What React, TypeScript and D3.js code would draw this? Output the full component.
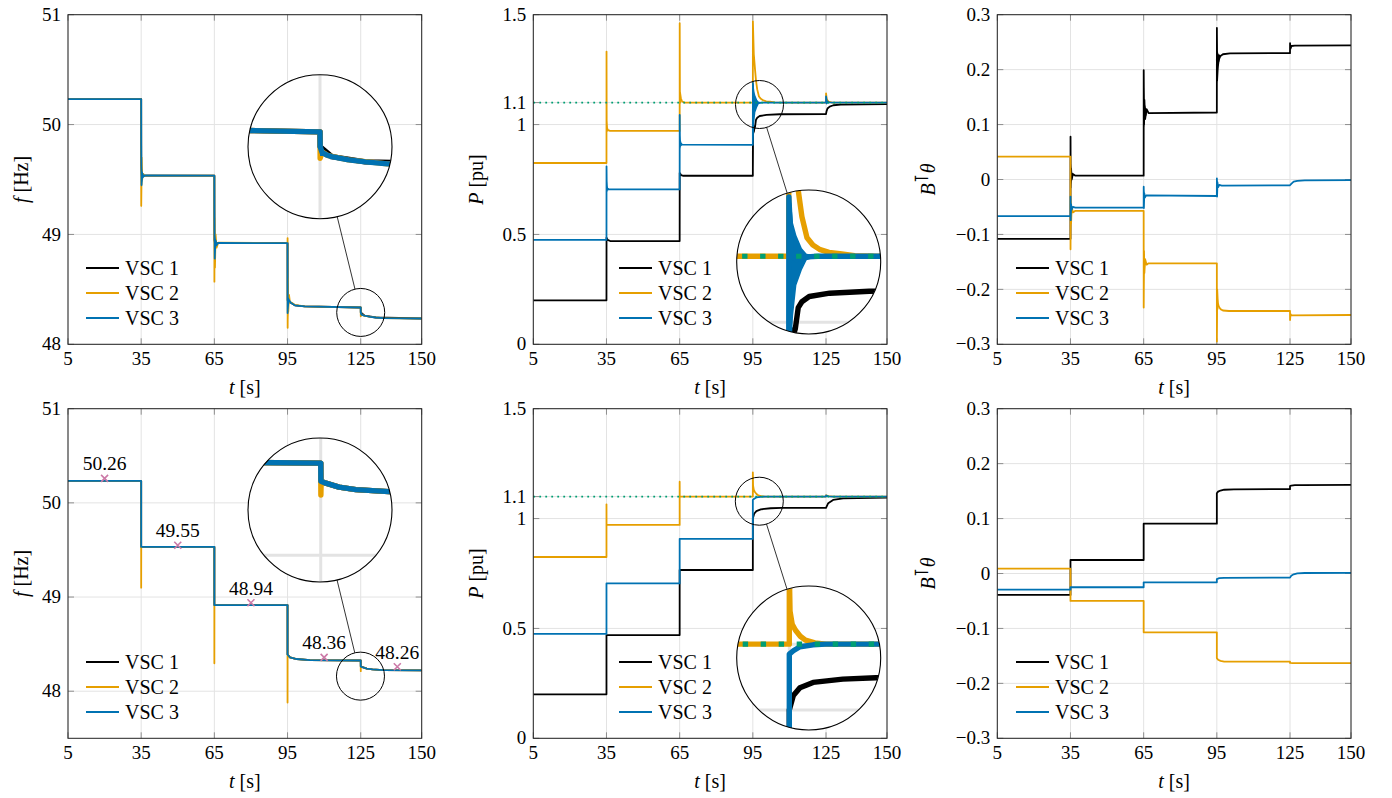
import React from 'react';
import * as d3 from 'd3';

type Pt = [number, number];
type Band = [number, number, number];

// ---------- axes ----------
const tDomain: [number, number] = [5, 150];
const tTicks = [5, 35, 65, 95, 125, 150];
const tTickLabels = ['5', '35', '65', '95', '125', '150'];

const fTicks = [48, 49, 50, 51];
const fTickLabels = ['48', '49', '50', '51'];
const pTicks = [0, 0.5, 1, 1.1, 1.5];
const pTickLabels = ['0', '0.5', '1', '1.1', '1.5'];
const bTicks = [-0.3, -0.2, -0.1, 0, 0.1, 0.2, 0.3];
const bTickLabels = ['\u22120.3', '\u22120.2', '\u22120.1', '0', '0.1', '0.2', '0.3'];

const seriesNames = ['VSC 1', 'VSC 2', 'VSC 3'];
const pRef = 1.1;

// ---------- top row: frequency ----------
const fTop1: Pt[] = [[5,50.232],[35,50.232],[35.03,49.62],[35.3,49.52],[36,49.535],[65,49.535],[65.03,48.95],[65.4,48.9],[66,48.92],[95,48.92],[95.03,48.4],[95.5,48.39],[96.5,48.375],[98,48.355],[102,48.345],[125,48.335],[125.02,48.29],[126.6,48.26],[131.2,48.244],[150,48.235]];
const fTop2: Pt[] = [[5,50.232],[35,50.232],[35.02,49.26],[35.1,49.42],[35.2,49.7],[35.4,49.5],[35.8,49.55],[36.5,49.535],[65,49.535],[65.02,48.57],[65.1,49.15],[65.25,48.7],[65.5,49.0],[65.9,48.88],[66.6,48.925],[95,48.92],[95.02,48.967],[95.05,48.15],[95.15,48.6],[95.3,48.3],[95.6,48.45],[96,48.38],[96.6,48.38],[98,48.358],[102,48.345],[125,48.335],[125.02,48.255],[125.3,48.275],[126,48.264],[128.9,48.25],[134.2,48.238],[150,48.235]];
const fTop3: Pt[] = [[5,50.232],[35,50.232],[35.02,49.83],[35.15,49.45],[35.4,49.56],[35.8,49.525],[36.5,49.537],[65,49.535],[65.02,49.22],[65.15,48.78],[65.4,48.95],[65.8,48.9],[66.5,48.922],[95,48.92],[95.02,48.285],[95.2,48.42],[95.6,48.4],[96.5,48.375],[98,48.355],[102,48.345],[125,48.335],[125.02,48.29],[125.3,48.272],[126,48.264],[126.6,48.26],[128.9,48.25],[131.2,48.244],[134.2,48.238],[150,48.235]];
const fTop2Bands: Band[][] = [
  [[35.0,49.26,49.8],[35.25,49.42,49.62],[35.6,49.5,49.56]],
  [[65.0,48.57,49.15],[65.25,48.75,49.0],[65.6,48.87,48.96]],
  [[95.0,48.15,48.967],[95.25,48.25,48.5],[95.6,48.35,48.43]],
];
const fTop3Bands: Band[][] = [
  [[35.0,49.43,49.83],[35.2,49.45,49.62],[35.5,49.5,49.57],[36,49.525,49.545]],
  [[65.0,48.77,49.22],[65.2,48.8,49.0],[65.5,48.87,48.96],[66,48.91,48.93]],
  [[95.0,48.285,48.92],[95.3,48.33,48.42],[95.7,48.37,48.41]],
  [[125.0,48.262,48.3],[125.4,48.262,48.282],[126,48.262,48.268]],
];

// ---------- top row: active power ----------
const pTop1: Pt[] = [[5,0.2],[35,0.2],[35.02,0.485],[35.5,0.475],[36.5,0.47],[65,0.47],[65.02,0.78],[65.6,0.77],[66.5,0.767],[95,0.767],[95.02,0.96],[95.5,0.975],[95.9,0.99],[96.3,1.022],[96.8,1.031],[97.8,1.039],[100.6,1.044],[106,1.047],[125,1.048],[125.2,1.06],[125.6,1.073],[126.5,1.082],[128,1.088],[131,1.091],[150,1.093]];
const pTop2: Pt[] = [[5,0.825],[35,0.825],[35.02,1.332],[35.08,1.0],[35.2,0.985],[35.6,0.975],[36.5,0.971],[65,0.971],[65.02,1.461],[65.1,1.15],[65.5,1.12],[66,1.105],[67,1.1],[95,1.1],[95.02,1.47],[95.4,1.32],[95.9,1.25],[96.3,1.2],[96.8,1.16],[97.5,1.128],[98.3,1.117],[99.3,1.11],[100.5,1.106],[102,1.104],[104,1.101],[107,1.1],[125,1.1],[125.02,1.142],[125.3,1.115],[126,1.105],[127.5,1.1],[150,1.1]];
const pTop3: Pt[] = [[5,0.475],[35,0.475],[35.02,0.81],[35.1,0.72],[35.3,0.71],[35.8,0.705],[65,0.705],[65.02,1.044],[65.1,0.93],[65.4,0.915],[66,0.909],[95,0.908],[95.02,1.19],[95.4,1.1],[96,1.095],[96.8,1.097],[97.5,1.099],[99,1.1],[125,1.1],[125.02,1.128],[125.3,1.105],[126,1.101],[129.5,1.1],[150,1.1]];
const pTop1Bands: Band[][] = [
  [[95.0,0.767,0.985],[95.4,0.955,0.99],[95.9,0.975,1.0]],
];
const pTop2Bands: Band[][] = [
  [[35.0,0.825,1.332],[35.1,0.965,1.03],[35.5,0.968,0.99]],
  [[65.0,0.971,1.461],[65.15,1.095,1.15],[65.6,1.098,1.12]],
];
const pTop3Bands: Band[][] = [
  [[35.0,0.475,0.81],[35.15,0.69,0.75],[35.5,0.7,0.715],[36,0.703,0.707]],
  [[65.0,0.705,1.044],[65.15,0.89,0.95],[65.5,0.9,0.92],[66,0.906,0.911]],
  [[95.0,0.908,1.19],[95.35,0.96,1.18],[95.6,1.01,1.15],[96.05,1.056,1.132],[96.8,1.079,1.112],[97.45,1.094,1.104],[98.85,1.099,1.101]],
  [[125.0,1.09,1.128],[125.5,1.095,1.11],[126.5,1.098,1.103],[128,1.099,1.101]],
];

// ---------- top row: B^T theta ----------
const bTop1: Pt[] = [[5,-0.108],[35,-0.108],[35.02,0.078],[35.1,-0.015],[35.25,0.02],[35.5,0.0],[36,0.01],[37,0.007],[65,0.007],[65.02,0.199],[65.15,0.1],[65.3,0.145],[65.6,0.11],[66.2,0.128],[67,0.121],[95,0.122],[95.02,0.276],[95.1,0.18],[95.4,0.205],[95.8,0.218],[96.5,0.225],[97.5,0.228],[100.4,0.2297],[125,0.23],[125.02,0.248],[125.2,0.238],[125.6,0.243],[127,0.2436],[150,0.244]];
const bTop2: Pt[] = [[5,0.0415],[35,0.0415],[35.02,-0.127],[35.1,-0.04],[35.25,-0.08],[35.5,-0.05],[36,-0.06],[37,-0.057],[65,-0.057],[65.02,-0.233],[65.15,-0.13],[65.3,-0.17],[65.6,-0.145],[66.2,-0.155],[67,-0.1526],[95,-0.1526],[95.02,-0.295],[95.15,-0.2],[95.4,-0.225],[95.8,-0.231],[96.5,-0.236],[97.5,-0.2385],[100,-0.2394],[125,-0.2394],[125.02,-0.2558],[125.2,-0.245],[125.6,-0.2475],[150,-0.2467]];
const bTop3: Pt[] = [[5,-0.0665],[35,-0.0665],[35.02,-0.031],[35.1,-0.074],[35.25,-0.045],[35.5,-0.055],[36,-0.05],[37,-0.0513],[65,-0.0513],[65.02,-0.013],[65.1,-0.052],[65.25,-0.025],[65.5,-0.033],[66,-0.029],[95,-0.03],[95.02,0.002],[95.1,-0.031],[95.25,-0.005],[95.5,-0.014],[96,-0.01],[97,-0.011],[125,-0.0105],[125.5,-0.008],[126.5,-0.004],[128,-0.0025],[131,-0.0015],[150,-0.0012]];
const bTop1Bands: Band[][] = [
  [[35.0,-0.02,0.078],[35.2,-0.01,0.03],[35.5,0.0,0.015],[36,0.005,0.009]],
  [[65.0,0.09,0.199],[65.25,0.098,0.148],[65.6,0.11,0.135],[66.2,0.118,0.125]],
  [[95.0,0.17,0.276],[95.3,0.19,0.235],[95.7,0.21,0.228],[96.3,0.22,0.227]],
];
const bTop2Bands: Band[][] = [
  [[35.0,-0.127,-0.02],[35.2,-0.095,-0.045],[35.5,-0.065,-0.05]],
  [[65.0,-0.233,-0.12],[65.25,-0.175,-0.135],[65.6,-0.158,-0.148]],
  [[95.0,-0.295,-0.2],[95.3,-0.24,-0.21],[95.7,-0.235,-0.226]],
];
const bTop3Bands: Band[][] = [
  [[35.0,-0.074,-0.031],[35.3,-0.058,-0.045]],
  [[65.0,-0.052,-0.013],[65.3,-0.035,-0.024]],
  [[95.0,-0.031,0.002],[95.3,-0.016,-0.005]],
];

// ---------- bottom row: frequency ----------
const fBot1: Pt[] = [[5,50.233],[35,50.233],[35,49.533],[65,49.533],[65,48.915],[95,48.915],[95,48.39],[96,48.36],[98.7,48.342],[104.2,48.331],[125,48.326],[125.02,48.262],[125.7,48.255],[127.5,48.241],[129.8,48.232],[134.3,48.225],[150,48.222]];
const fBot2: Pt[] = [[5,50.233],[35,50.233],[35,49.1],[35.03,49.533],[65,49.533],[65,48.297],[65.03,48.915],[95,48.915],[95,47.88],[95.03,48.39],[96,48.36],[98.7,48.342],[104.2,48.331],[125,48.326],[125.02,48.213],[125.06,48.262],[125.7,48.255],[127.5,48.241],[129.8,48.232],[134.3,48.225],[150,48.222]];
const fBot3: Pt[] = fBot1.map(d => [d[0], d[1]] as Pt);
const fMarkT = [20, 50, 80, 110, 140];
const fMarkV = [50.26, 49.55, 48.94, 48.36, 48.26];
const fMarkLabels = ['50.26', '49.55', '48.94', '48.36', '48.26'];

// ---------- bottom row: active power ----------
const pBot1: Pt[] = [[5,0.2],[35,0.2],[35,0.47],[65,0.47],[65,0.766],[95,0.766],[95,1.0],[95.55,1.022],[96.45,1.034],[98.25,1.042],[102.3,1.047],[106.8,1.049],[125,1.049],[125.9,1.07],[127.9,1.085],[132,1.092],[150,1.095]];
const pBot2: Pt[] = [[5,0.825],[35,0.825],[35,1.065],[35.03,0.971],[65,0.971],[65,1.168],[65.03,1.1],[95,1.1],[95,1.21],[95.1,1.15],[95.4,1.13],[95.85,1.121],[96.5,1.112],[97.2,1.106],[98.5,1.102],[100,1.1],[125,1.1],[125.05,1.106],[126,1.102],[128,1.1],[150,1.1]];
const pBot3: Pt[] = [[5,0.475],[35,0.475],[35,0.705],[65,0.705],[65,0.908],[95,0.908],[95,1.085],[95.55,1.09],[96.45,1.096],[98.25,1.099],[100,1.1],[125,1.1],[125.05,1.105],[126,1.101],[128,1.1],[150,1.1]];

// ---------- bottom row: B^T theta ----------
const bBot1: Pt[] = [[5,-0.039],[35,-0.039],[35,0.0246],[65,0.0246],[65,0.0907],[95,0.0907],[95,0.146],[95.5,0.149],[96.5,0.151],[98,0.1525],[102,0.1533],[125,0.1535],[125,0.1593],[125.5,0.16],[127,0.1607],[130,0.161],[150,0.1612]];
const bBot2: Pt[] = [[5,0.0088],[35,0.0088],[35,-0.05],[65,-0.05],[65,-0.107],[95,-0.107],[95,-0.154],[95.5,-0.157],[96.5,-0.159],[98,-0.1603],[125,-0.1606],[125,-0.1628],[126,-0.163],[150,-0.163]];
const bBot3: Pt[] = [[5,-0.0295],[35,-0.0295],[35,-0.025],[65,-0.025],[65,-0.016],[95,-0.016],[95,-0.0101],[96,-0.0085],[98,-0.0078],[125,-0.0075],[125.5,-0.004],[126.5,-0.0015],[128,0.0003],[131,0.0009],[150,0.001]];

// ---------- magnifier positions (data coords of the small circle) ----------
const spyTopF: Pt = [125, 48.29];
const spyTopP: Pt = [97.73, 1.0913];
const spyBotF: Pt = [124.9, 48.16];
const spyBotP: Pt = [97.65, 1.079];

// ---------- styling ----------
const COLORS = ['#000000', '#E69F00', '#0072B2'];
const GREEN = '#009E73';
const PINK = '#CC79A7';
const PW = 353.7, PH = 329.6;
const colLefts = [68, 533.3, 997.3];
const rowTops = [14.7, 408.7];
const LW = 1.8;
const FONT = '"Liberation Serif", "DejaVu Serif", "Times New Roman", serif';
const FS = 19;
const FS_LEG = 20;
const R1 = 24, R2 = 72, MAG = 3;

interface Series { name: string; color: string; line: Pt[]; bands: Band[][] }
interface PanelCfg {
  id: string; left: number; top: number;
  yDomain: [number, number]; yTicks: number[]; yTickLabels: string[];
  yTitle: 'f' | 'P' | 'B'; yTitleDx: number; legendDx: number;
  series: Series[]; ref?: number;
  markers?: { t: number[]; v: number[]; labels: string[] };
  spy?: { at: Pt; big: [number, number] };
}

const mk = (lines: Pt[][], bands: Band[][][]): Series[] =>
  lines.map((l, i) => ({ name: seriesNames[i], color: COLORS[i], line: l, bands: bands[i] }));

const panels: PanelCfg[] = [
  { id: 'a', left: colLefts[0], top: rowTops[0], yDomain: [48, 51], yTicks: fTicks, yTickLabels: fTickLabels,
    yTitle: 'f', yTitleDx: -40, legendDx: 18, series: mk([fTop1, fTop2, fTop3], [[], fTop2Bands, fTop3Bands]),
    spy: { at: spyTopF, big: [252, 132] } },
  { id: 'b', left: colLefts[1], top: rowTops[0], yDomain: [0, 1.5], yTicks: pTicks, yTickLabels: pTickLabels,
    yTitle: 'P', yTitleDx: -50.5, legendDx: 85.7, series: mk([pTop1, pTop2, pTop3], [pTop1Bands, pTop2Bands, pTop3Bands]),
    ref: pRef, spy: { at: spyTopP, big: [275.4, 247.3] } },
  { id: 'c', left: colLefts[2], top: rowTops[0], yDomain: [-0.3, 0.3], yTicks: bTicks, yTickLabels: bTickLabels,
    yTitle: 'B', yTitleDx: -62, legendDx: 18.7, series: mk([bTop1, bTop2, bTop3], [bTop1Bands, bTop2Bands, bTop3Bands]) },
  { id: 'd', left: colLefts[0], top: rowTops[1], yDomain: [47.5, 51], yTicks: fTicks, yTickLabels: fTickLabels,
    yTitle: 'f', yTitleDx: -40, legendDx: 18, series: mk([fBot1, fBot2, fBot3], [[], [], []]),
    markers: { t: fMarkT, v: fMarkV, labels: fMarkLabels }, spy: { at: spyBotF, big: [252, 101.3] } },
  { id: 'e', left: colLefts[1], top: rowTops[1], yDomain: [0, 1.5], yTicks: pTicks, yTickLabels: pTickLabels,
    yTitle: 'P', yTitleDx: -50.5, legendDx: 85.7, series: mk([pBot1, pBot2, pBot3], [[], [], []]),
    ref: pRef, spy: { at: spyBotP, big: [275.4, 249.3] } },
  { id: 'f', left: colLefts[2], top: rowTops[1], yDomain: [-0.3, 0.3], yTicks: bTicks, yTickLabels: bTickLabels,
    yTitle: 'B', yTitleDx: -62, legendDx: 18.7, series: mk([bBot1, bBot2, bBot3], [[], [], []]) },
];

function YTitle({ kind }: { kind: 'f' | 'P' | 'B' }) {
  if (kind === 'f') return <><tspan fontStyle="italic">f</tspan> [Hz]</>;
  if (kind === 'P') return <><tspan fontStyle="italic">P</tspan> [pu]</>;
  return (
    <>
      <tspan fontStyle="italic">B</tspan>
      <tspan dy="-7" style={{ fontSize: '19px', fontFamily: '"DejaVu Serif", "DejaVu Sans", serif' }}>{'\u22BA'}</tspan>
      <tspan dy="7" fontStyle="italic">{'\u03B8'}</tspan>
    </>
  );
}

function Panel({ cfg }: { cfg: PanelCfg }) {
  const x = d3.scaleLinear().domain(tDomain).range([0, PW]);
  const y = d3.scaleLinear().domain(cfg.yDomain).range([PH, 0]);
  const line = d3.line<Pt>().x(d => x(d[0])).y(d => y(d[1]));
  const area = d3.area<Band>().x(d => x(d[0])).y0(d => y(d[1])).y1(d => y(d[2]));

  const grid = (
    <g stroke="#e3e3e3" strokeWidth={1} fill="none">
      {tTicks.map(t => <line key={'gx' + t} x1={x(t)} x2={x(t)} y1={0} y2={PH} />)}
      {cfg.yTicks.map(v => <line key={'gy' + v} x1={0} x2={PW} y1={y(v)} y2={y(v)} />)}
    </g>
  );

  const content = (
    <g>
      {cfg.series.map(s => (
        <g key={s.name}>
          {s.bands.map((b, i) => <path key={i} d={area(b) || ''} fill={s.color} stroke="none" />)}
          <path d={line(s.line) || ''} fill="none" stroke={s.color} strokeWidth={LW} strokeLinejoin="round" />
        </g>
      ))}
      {cfg.ref !== undefined && (
        <line x1={0} x2={PW} y1={y(cfg.ref)} y2={y(cfg.ref)} stroke={GREEN} strokeWidth={1.7} strokeDasharray="1.8 4.2" />
      )}
    </g>
  );

  const spy = cfg.spy;
  let spyEl: React.ReactNode = null;
  if (spy) {
    const sx = x(spy.at[0]), sy = y(spy.at[1]);
    const [bx, by] = spy.big;
    const dx = bx - sx, dy = by - sy, dd = Math.hypot(dx, dy);
    const ux = dx / dd, uy = dy / dd;
    spyEl = (
      <g>
        <circle cx={sx} cy={sy} r={R1} fill="none" stroke="#000" strokeWidth={1} />
        <line x1={sx + ux * R1} y1={sy + uy * R1} x2={bx - ux * R2} y2={by - uy * R2} stroke="#000" strokeWidth={0.8} />
        <g clipPath={`url(#${cfg.id}-spy)`}>
          <circle cx={bx} cy={by} r={R2} fill="#fff" />
          <g transform={`translate(${bx - MAG * sx},${by - MAG * sy}) scale(${MAG})`}>
            {grid}
            {content}
          </g>
        </g>
        <circle cx={bx} cy={by} r={R2} fill="none" stroke="#000" strokeWidth={1.1} />
      </g>
    );
  }

  const tickLen = 6;
  return (
    <g transform={`translate(${cfg.left},${cfg.top})`} style={{ fontFamily: FONT, fontSize: `${FS}px` }}>
      <defs>
        <clipPath id={`${cfg.id}-plot`}><rect x={0} y={0} width={PW} height={PH} /></clipPath>
        {spy && <clipPath id={`${cfg.id}-spy`}><circle cx={spy.big[0]} cy={spy.big[1]} r={R2} /></clipPath>}
      </defs>
      {grid}
      <g stroke="#777" strokeWidth={0.8}>
        {tTicks.map(t => <g key={'tx' + t}>
          <line x1={x(t)} x2={x(t)} y1={PH} y2={PH - tickLen} />
          <line x1={x(t)} x2={x(t)} y1={0} y2={tickLen} />
        </g>)}
        {cfg.yTicks.map(v => <g key={'ty' + v}>
          <line x1={0} x2={tickLen} y1={y(v)} y2={y(v)} />
          <line x1={PW} x2={PW - tickLen} y1={y(v)} y2={y(v)} />
        </g>)}
      </g>
      <g clipPath={`url(#${cfg.id}-plot)`}>{content}</g>
      {cfg.markers && (
        <g>
          {cfg.markers.t.map((t, i) => {
            const mx = x(t), my = y(cfg.markers!.v[i]);
            return (
              <g key={'m' + i}>
                <path d={`M${mx - 3.5},${my - 3.5}L${mx + 3.5},${my + 3.5}M${mx - 3.5},${my + 3.5}L${mx + 3.5},${my - 3.5}`}
                  stroke={PINK} strokeWidth={1.6} />
                <text x={mx} y={my - 8} textAnchor="middle" fill="#000" style={{ fontSize: '19.5px' }}>{cfg.markers!.labels[i]}</text>
              </g>
            );
          })}
        </g>
      )}
      {/* legend */}
      <g>
        {cfg.series.map((s, i) => {
          const ly = PH - 76.3 + i * 25;
          return (
            <g key={'lg' + i}>
              <line x1={cfg.legendDx} x2={cfg.legendDx + 33} y1={ly} y2={ly} stroke={s.color} strokeWidth={LW} />
              <text x={cfg.legendDx + 39} y={ly + 6.8} fill="#000" style={{ fontSize: `${FS_LEG}px` }}>{s.name}</text>
            </g>
          );
        })}
      </g>
      {spyEl}
      <rect x={0} y={0} width={PW} height={PH} fill="none" stroke="#222" strokeWidth={1} />
      {/* tick labels */}
      {tTicks.map((t, i) => (
        <text key={'xl' + t} x={x(t)} y={PH + 20.7} textAnchor="middle" fill="#000">{tTickLabels[i]}</text>
      ))}
      {cfg.yTicks.map((v, i) => (
        <text key={'yl' + v} x={-7} y={y(v) + 6.2} textAnchor="end" fill="#000">{cfg.yTickLabels[i]}</text>
      ))}
      <text x={PW / 2} y={PH + 49.5} textAnchor="middle" fill="#000" style={{ fontSize: `${FS_LEG}px` }}>
        <tspan fontStyle="italic">t</tspan> [s]
      </text>
      <text transform={`translate(${cfg.yTitleDx},${PH / 2}) rotate(-90)`} textAnchor="middle" fill="#000" style={{ fontSize: `${FS_LEG}px` }}>
        <YTitle kind={cfg.yTitle} />
      </text>
    </g>
  );
}

export default function App() {
  return (
    <svg width={1392} height={798} viewBox="0 0 1392 798"
      style={{ position: 'absolute', left: 0, top: 0, background: '#fff' }}>
      <rect x={0} y={0} width={1392} height={798} fill="#fff" />
      {panels.map(p => <Panel key={p.id} cfg={p} />)}
    </svg>
  );
}
